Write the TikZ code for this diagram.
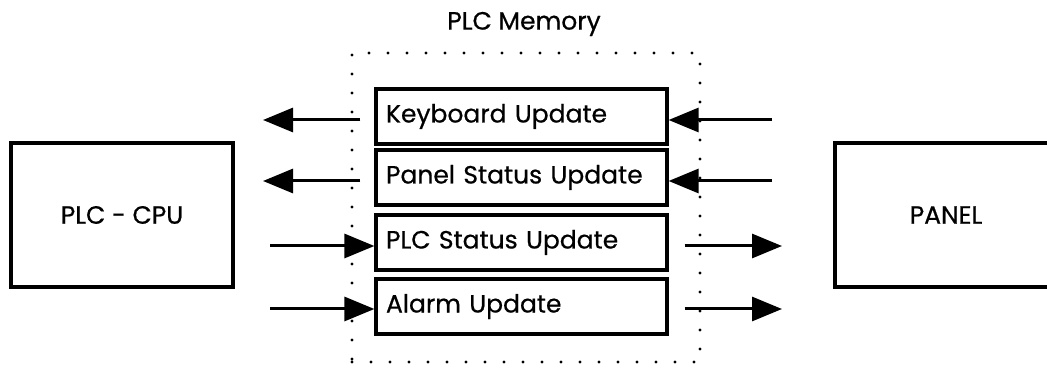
\documentclass[tikz,border=0pt]{standalone}
\usepackage{fontspec}
\setmainfont{Poppins}
\newfontfamily\diagfont{Poppins}[FakeBold=0.6]
\usetikzlibrary{arrows.meta}

\begin{document}
\begin{tikzpicture}[x=1pt, y=-1pt,
        unit/.style={rectangle, draw=black, line width=3.2pt, minimum width=222pt, minimum height=144pt, font=\diagfont\fontsize{25}{29}\selectfont},
        update/.style={rectangle, draw=black, line width=3.2pt, text width=271pt, inner xsep=10pt, minimum height=55pt, align=left, font=\diagfont\fontsize{25}{29}\selectfont},
        memory/.style={rectangle, draw=black, line width=3.4pt, dash pattern=on 0pt off 19pt, line cap=round, minimum width=348pt, minimum height=309pt},
        arrow/.style={line width=3pt, -{Triangle[length=30pt, width=24pt]}}
    ]
        \useasboundingbox (0,0) rectangle (1047,371);

        \node[memory] (mem) at (526,207.5) {};
        \node[font=\diagfont\fontsize{25}{29}\selectfont] (memtitle) at (524,24) {PLC Memory};

        \node[unit] (cpu) at (122,215) {PLC - CPU};
        \node[unit] (panel) at (946,215) {PANEL};

        \node[update] (kbd) at (521.5,116.5) {Keyboard Update};
        \node[update] (panelstat) at (521.5,177.5) {Panel Status Update};
        \node[update] (plcstat) at (521.5,242.5) {PLC Status Update};
        \node[update] (alarm) at (521.5,306.5) {Alarm Update};

        % free ends of the arrows
        \coordinate (kbdL) at (263,120);
        \coordinate (kbdR) at (772,120);
        \coordinate (panelstatL) at (263,181);
        \coordinate (panelstatR) at (772,181);
        \coordinate (plcstatL) at (270,246);
        \coordinate (plcstatR) at (782,246);
        \coordinate (alarmL) at (270,309);
        \coordinate (alarmR) at (782,309);

        \draw[arrow] ([xshift=-14pt]kbd.west |- kbdL) -- (kbdL);
        \draw[arrow] ([xshift=-14pt]panelstat.west |- panelstatL) -- (panelstatL);
        \draw[arrow] (kbdR) -- (kbd.east |- kbdR);
        \draw[arrow] (panelstatR) -- (panelstat.east |- panelstatR);
        \draw[arrow] (plcstatL) -- (plcstat.west |- plcstatL);
        \draw[arrow] (alarmL) -- (alarm.west |- alarmL);
        \draw[arrow] ([xshift=16pt]plcstat.east |- plcstatR) -- (plcstatR);
        \draw[arrow] ([xshift=16pt]alarm.east |- alarmR) -- (alarmR);
    \end{tikzpicture}
\end{document}
